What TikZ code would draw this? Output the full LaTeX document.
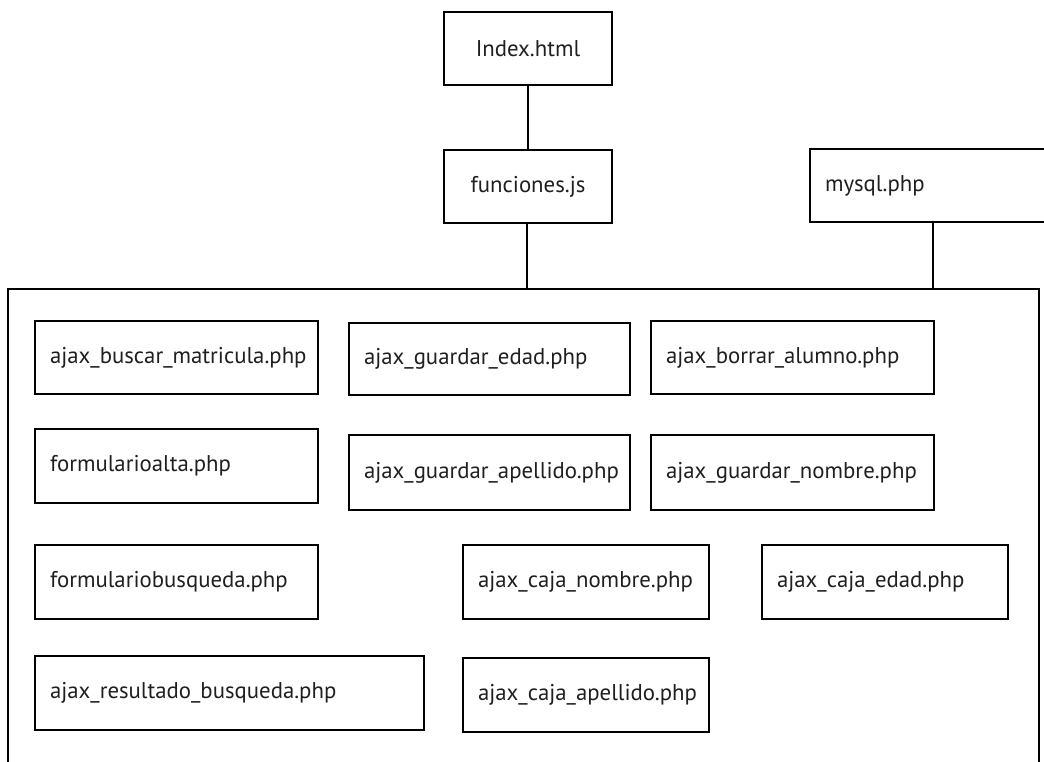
\documentclass[tikz,border=0pt]{standalone}
\usepackage{fontspec}
\setmainfont{PT Sans}
\newfontfamily\filefont{PT Sans}
\begin{document}
\begin{tikzpicture}[x=1pt,y=-1pt,
  fbox/.style={draw, line width=2pt, anchor=north west, inner xsep=15pt,
    inner ysep=0pt, align=left, text=black!88, font=\filefont\fontsize{22.8}{26}\selectfont},
  cbox/.style={fbox, align=center},
  link/.style={line width=2pt}]
\useasboundingbox (0,0) rectangle (1044,762);
\clip (0,0) rectangle (1044,762);

% top-level files
\node[cbox, text width=138pt, minimum height=73pt] (index) at (443,11) {Index.html};
\node[cbox, text width=138pt, minimum height=73pt] (func) at (443,149) {funciones.js};
\node[fbox, text width=240pt, minimum height=73pt] (mysql) at (809,148) {mysql.php};

% frame holding the PHP scripts
\draw[link] (8,770) -- (8,289) -- (1039,289) -- (1039,770);
\coordinate (ftop) at (527,289);
\coordinate (mtop) at (933,289);

\draw[link] (index.south) -- (func.north);
\draw[link] (ftop) -- (ftop |- func.south);
\draw[link] (mtop) -- (mtop |- mysql.south);

% first column
\node[fbox, text width=253pt, minimum height=73pt] (buscar) at (34,320) {ajax\_buscar\_matricula.php};
\node[fbox, text width=253pt, minimum height=74pt] (alta) at (34,428) {formularioalta.php};
\node[fbox, text width=253pt, minimum height=74pt] (fbusq) at (34,544) {formulariobusqueda.php};
\node[fbox, text width=359pt, minimum height=74pt] (result) at (34,655) {ajax\_resultado\_busqueda.php};

% second column
\node[fbox, text width=251pt, minimum height=72pt] (gedad) at (348,322) {ajax\_guardar\_edad.php};
\node[fbox, text width=251pt, minimum height=75pt] (gape) at (348,434) {ajax\_guardar\_apellido.php};

% third column
\node[fbox, text width=253pt, minimum height=73pt] (borrar) at (650,320) {ajax\_borrar\_alumno.php};
\node[fbox, text width=253pt, minimum height=75pt] (gnom) at (650,434) {ajax\_guardar\_nombre.php};

% text-box scripts
\node[fbox, text width=216pt, minimum height=74pt] (cnom) at (462,544) {ajax\_caja\_nombre.php};
\node[fbox, text width=216pt, minimum height=74pt] (cedad) at (761,544) {ajax\_caja\_edad.php};
\node[fbox, text width=216pt, minimum height=74pt] (cape) at (462,657) {ajax\_caja\_apellido.php};
\end{tikzpicture}
\end{document}
